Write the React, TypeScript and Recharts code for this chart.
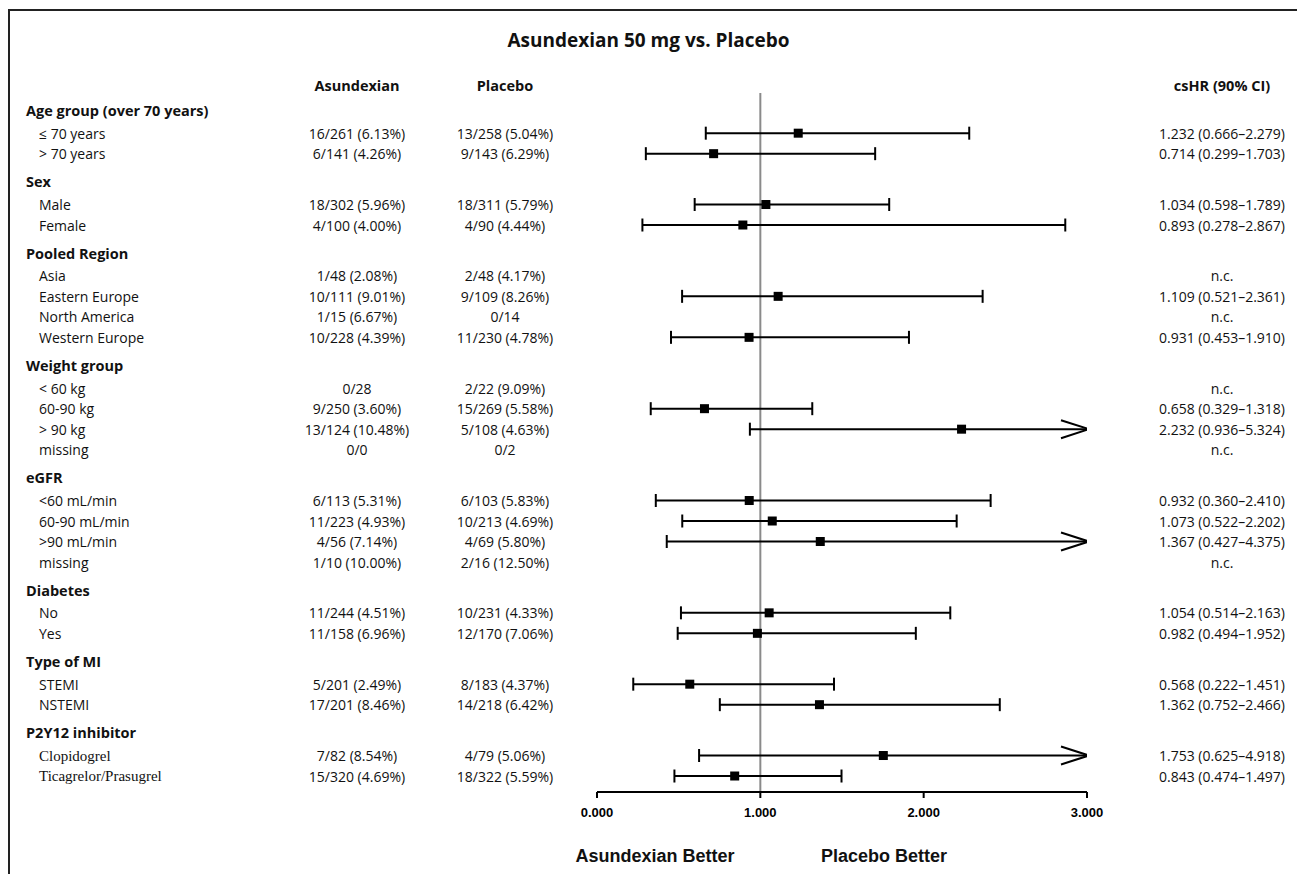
import React from 'react';
import { ComposedChart, Scatter, XAxis, YAxis, ReferenceLine } from 'recharts';

const groupNames = [
  'Age group (over 70 years)',
  'Sex',
  'Pooled Region',
  'Weight group',
  'eGFR',
  'Diabetes',
  'Type of MI',
  'P2Y12 inhibitor',
];
const groupSizes = [2, 2, 4, 4, 4, 2, 2, 2];

const subgroupLabels = [
  '≤ 70 years', '> 70 years',
  'Male', 'Female',
  'Asia', 'Eastern Europe', 'North America', 'Western Europe',
  '< 60 kg', '60-90 kg', '> 90 kg', 'missing',
  '<60 mL/min', '60-90 mL/min', '>90 mL/min', 'missing',
  'No', 'Yes',
  'STEMI', 'NSTEMI',
  'Clopidogrel', 'Ticagrelor/Prasugrel',
];

const asundexianEvents = [
  '16/261 (6.13%)', '6/141 (4.26%)',
  '18/302 (5.96%)', '4/100 (4.00%)',
  '1/48 (2.08%)', '10/111 (9.01%)', '1/15 (6.67%)', '10/228 (4.39%)',
  '0/28', '9/250 (3.60%)', '13/124 (10.48%)', '0/0',
  '6/113 (5.31%)', '11/223 (4.93%)', '4/56 (7.14%)', '1/10 (10.00%)',
  '11/244 (4.51%)', '11/158 (6.96%)',
  '5/201 (2.49%)', '17/201 (8.46%)',
  '7/82 (8.54%)', '15/320 (4.69%)',
];

const placeboEvents = [
  '13/258 (5.04%)', '9/143 (6.29%)',
  '18/311 (5.79%)', '4/90 (4.44%)',
  '2/48 (4.17%)', '9/109 (8.26%)', '0/14', '11/230 (4.78%)',
  '2/22 (9.09%)', '15/269 (5.58%)', '5/108 (4.63%)', '0/2',
  '6/103 (5.83%)', '10/213 (4.69%)', '4/69 (5.80%)', '2/16 (12.50%)',
  '10/231 (4.33%)', '12/170 (7.06%)',
  '8/183 (4.37%)', '14/218 (6.42%)',
  '4/79 (5.06%)', '18/322 (5.59%)',
];

const hazardRatio = [
  1.232, 0.714,
  1.034, 0.893,
  null, 1.109, null, 0.931,
  null, 0.658, 2.232, null,
  0.932, 1.073, 1.367, null,
  1.054, 0.982,
  0.568, 1.362,
  1.753, 0.843,
];
const ciLower = [
  0.666, 0.299,
  0.598, 0.278,
  null, 0.521, null, 0.453,
  null, 0.329, 0.936, null,
  0.36, 0.522, 0.427, null,
  0.514, 0.494,
  0.222, 0.752,
  0.625, 0.474,
];
const ciUpper = [
  2.279, 1.703,
  1.789, 2.867,
  null, 2.361, null, 1.91,
  null, 1.318, 5.324, null,
  2.41, 2.202, 4.375, null,
  2.163, 1.952,
  1.451, 2.466,
  4.918, 1.497,
];

const xTicks = [0, 1, 2, 3];
const X_MAX = 3;

// row spacing in row units (one unit = gap between two subgroup rows)
const HEADER_TO_ITEM = 1.1;
const ITEM_TO_HEADER = 1.38;

type Row = {
  pos: number;
  header: boolean;
  label: string;
  asu?: string;
  pla?: string;
  hr?: number | null;
  lo?: number | null;
  hi?: number | null;
  serif?: boolean;
};

const rows: Row[] = [];
{
  let pos = 0;
  let k = 0;
  groupNames.forEach((name, gi) => {
    if (gi > 0) pos += ITEM_TO_HEADER;
    rows.push({ pos, header: true, label: name });
    for (let j = 0; j < groupSizes[gi]; j++) {
      pos += j === 0 ? HEADER_TO_ITEM : 1;
      rows.push({
        pos,
        header: false,
        label: subgroupLabels[k],
        asu: asundexianEvents[k],
        pla: placeboEvents[k],
        hr: hazardRatio[k],
        lo: ciLower[k],
        hi: ciUpper[k],
        serif: name === 'P2Y12 inhibitor',
      });
      k++;
    }
  });
}

const yDomain = [-0.86, 33.24];
const estimates = rows
  .filter((r) => r.hr != null)
  .map((r) => ({ x: r.hr, y: r.pos }));

const fmt = (v: number) => v.toFixed(3);
const csText = (r: Row) =>
  r.hr == null ? 'n.c.' : `${fmt(r.hr)} (${fmt(r.lo as number)}–${fmt(r.hi as number)})`;

const SANS = '"Open Sans", "DejaVu Sans", sans-serif';
const ARIAL = '"Liberation Sans", Arial, sans-serif';

function RowTick(props: any) {
  const { y, payload } = props;
  const r = rows.find((row) => Math.abs(row.pos - payload.value) < 1e-6);
  if (!r) return null;
  if (r.header) {
    return (
      <text x={26} y={y} dominantBaseline="central" fontFamily={SANS} fontSize={14.5} fontWeight={700} fill="#111">
        {r.label}
      </text>
    );
  }
  return (
    <g fontSize={14} fill="#111">
      <text
        x={39}
        y={y}
        dominantBaseline="central"
        fontFamily={r.serif ? '"Liberation Serif", serif' : SANS}
        fontSize={r.serif ? 15 : 14}
      >
        {r.label}
      </text>
      <text x={357} y={y} dominantBaseline="central" textAnchor="middle" fontFamily={SANS}>
        {r.asu}
      </text>
      <text x={505} y={y} dominantBaseline="central" textAnchor="middle" fontFamily={SANS}>
        {r.pla}
      </text>
      <text x={1222} y={y} dominantBaseline="central" textAnchor="middle" fontFamily={SANS}>
        {csText(r)}
      </text>
    </g>
  );
}

function EndMark(props: any) {
  const { cx, cy, payload } = props;
  if (payload.arrow) {
    return (
      <polyline
        points={`${cx - 26},${cy - 9} ${cx + 2},${cy} ${cx - 26},${cy + 9}`}
        fill="none"
        stroke="#000"
        strokeWidth={2}
      />
    );
  }
  return <line x1={cx} x2={cx} y1={cy - 6.5} y2={cy + 6.5} stroke="#000" strokeWidth={2} />;
}

function SquareMark(props: any) {
  const { cx, cy } = props;
  return <rect x={cx - 4.5} y={cy - 4.5} width={9} height={9} fill="#000" />;
}

const headerStyle: React.CSSProperties = {
  position: 'absolute',
  width: 200,
  textAlign: 'center',
  fontFamily: SANS,
  fontSize: 14.5,
  fontWeight: 700,
  color: '#111',
  lineHeight: '18px',
};

const footerStyle: React.CSSProperties = {
  position: 'absolute',
  width: 200,
  top: 844,
  textAlign: 'center',
  fontFamily: ARIAL,
  fontSize: 18,
  fontWeight: 700,
  color: '#111',
  lineHeight: '24px',
};

export default function App() {
  const ciRows = rows.filter((r) => r.lo != null && r.hi != null);
  return (
    <div style={{ position: 'absolute', left: 0, top: 0, width: 1297, height: 874, background: '#fff' }}>
      <div
        style={{
          position: 'absolute',
          left: 8,
          top: 9,
          right: 0,
          bottom: 0,
          borderLeft: '2px solid #222',
          borderTop: '2px solid #222',
        }}
      />
      <div
        style={{
          position: 'absolute',
          left: 0,
          width: 1297,
          top: 27,
          textAlign: 'center',
          fontFamily: SANS,
          fontSize: 19,
          fontWeight: 700,
          color: '#111',
          lineHeight: '26px',
        }}
      >
        Asundexian 50 mg vs. Placebo
      </div>
      {[
        { text: 'Asundexian', x: 357 },
        { text: 'Placebo', x: 505 },
        { text: 'csHR (90% CI)', x: 1222 },
      ].map((h) => (
        <div key={h.text} style={{ ...headerStyle, left: h.x - 100, top: 77 }}>
          {h.text}
        </div>
      ))}
      <div style={{ position: 'absolute', left: 0, top: 0 }}>
        <ComposedChart width={1297} height={874} margin={{ top: 93, right: 210, bottom: 52, left: 0 }}>
          <XAxis
            type="number"
            dataKey="x"
            domain={[0, X_MAX]}
            ticks={xTicks}
            allowDataOverflow
            height={30}
            tickFormatter={fmt}
            tick={{ fontFamily: ARIAL, fontSize: 13, fontWeight: 700, fill: '#000' }}
            axisLine={{ stroke: '#000', strokeWidth: 2 }}
            tickLine={{ stroke: '#000', strokeWidth: 2 }}
            tickSize={6}
            tickMargin={10}
          />
          <YAxis
            type="number"
            dataKey="y"
            domain={yDomain}
            reversed
            allowDataOverflow
            width={597}
            ticks={rows.map((r) => r.pos)}
            interval={0}
            tick={<RowTick />}
            axisLine={false}
            tickLine={false}
          />
          {ciRows.map((r, i) => (
            <Scatter
              key={i}
              data={[
                { x: r.lo, y: r.pos, arrow: false },
                { x: Math.min(r.hi as number, X_MAX), y: r.pos, arrow: (r.hi as number) > X_MAX },
              ]}
              line={{ stroke: '#000', strokeWidth: 2 }}
              shape={<EndMark />}
              isAnimationActive={false}
            />
          ))}
          <Scatter data={estimates} shape={<SquareMark />} isAnimationActive={false} />
          <ReferenceLine x={1} stroke="#8a8a8a" strokeWidth={2} />
        </ComposedChart>
      </div>
      <div style={{ ...footerStyle, left: 555 }}>Asundexian Better</div>
      <div style={{ ...footerStyle, left: 784 }}>Placebo Better</div>
    </div>
  );
}
